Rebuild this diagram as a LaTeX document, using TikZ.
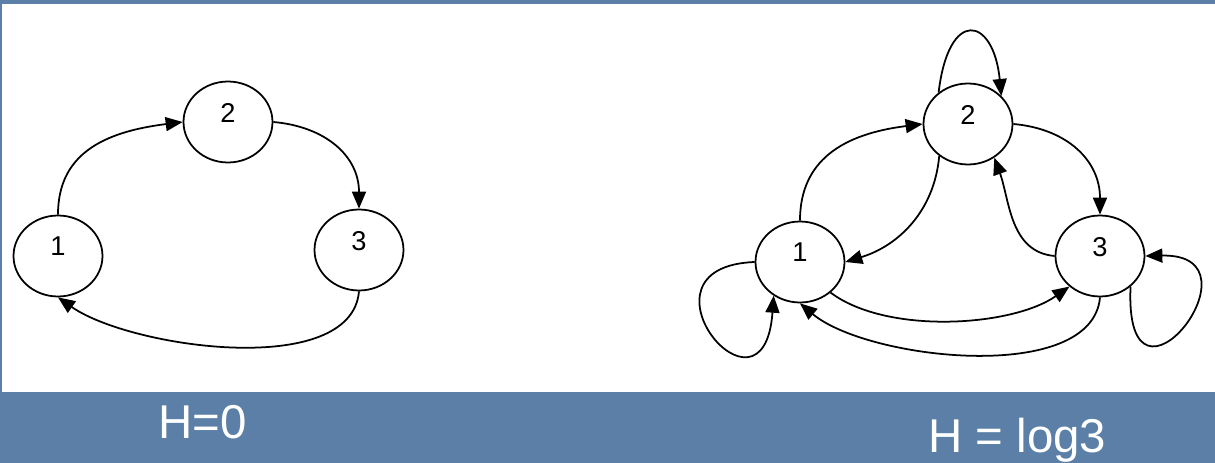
\documentclass[tikz,border=0pt]{standalone}
\usepackage{fontspec}
\setmainfont{Liberation Sans}
\usetikzlibrary{positioning,arrows.meta,shapes.geometric}
\definecolor{slideblue}{RGB}{91,127,166}

\begin{document}
\begin{tikzpicture}[
  x=0.02cm, y=0.02cm,
  vertex/.style={draw, ellipse, line width=1pt, minimum width=1.78cm, minimum height=1.62cm,
                 inner sep=1pt, font=\fontsize{15.5}{18}\selectfont, text depth=0.38cm},
  arrow/.style={-{Triangle[length=0.34cm,width=0.28cm]}, line width=1pt},
  caption/.style={anchor=base west, inner sep=0pt, text=white,
                  font=\fontsize{27}{30}\selectfont}
]
\useasboundingbox (0,0) rectangle (1215,-463);

% slide background and white panel
\fill[slideblue] (0,0) rectangle (1215,-463);
\fill[white] (2,-4) rectangle (1215,-392);

% cycle, H=0
\node (l1) [vertex] at (58,-256) {1};
\node (l2) [vertex] at (228,-122) {2};
\node (l3) [vertex] at (359,-250) {3};

\draw [arrow] (l1.north) .. controls +(0,60) and +(-80,-10) .. (l2.west);
\draw [arrow] (l2.east)  to[out=-5,in=90,looseness=1.1] (l3.north);
\draw [arrow] (l3.south) to[out=-95,in=-35,looseness=0.75] (l1.south);

% complete graph, H = log3
\node (r1) [vertex] at (800,-262) {1};
\node (r2) [vertex] at (968,-124) {2};
\node (r3) [vertex] at (1100,-256) {3};

\draw [arrow] (r1.north) .. controls +(0,60) and +(-80,-10) .. (r2.west);
\draw [arrow] (r2.228)   to[out=-95,in=17] (r1.east);
\draw [arrow] (r2.east)  to[out=-5,in=90,looseness=1.1] (r3.north);
\draw [arrow] (r3.west)  to[out=175,in=-70] (r2.-52);
\draw [arrow] (r1.-45)   to[out=-37,in=215,looseness=0.75] (r3.225);
\draw [arrow] (r3.south) to[out=-95,in=-40,looseness=0.75] (r1.south);

% self loops
\draw [arrow] (r2.133) .. controls +(10,85) and +(-8,80) .. (r2.40);
\draw [arrow] (r1.west) .. controls +(-130,-5) and +(-10,-140) .. (r1.232);
\draw [arrow] (r3.-45) .. controls +(-7,-152) and +(124,3) .. (r3.east);

\node (h0) [caption] at (158,-438) {H=0};
\node (hlog) [caption] at (928,-452) {H = log3};

\end{tikzpicture}
\end{document}
